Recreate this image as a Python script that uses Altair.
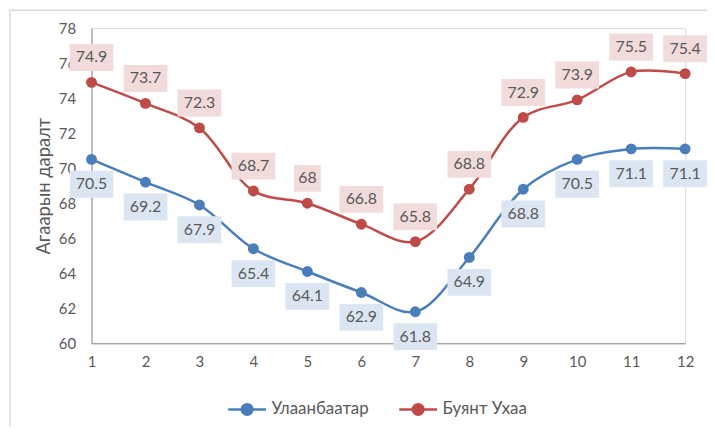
import altair as alt
import pandas as pd

months = list(range(1, 13))
ulaanbaatar = [70.5, 69.2, 67.9, 65.4, 64.1, 62.9, 61.8, 64.9, 68.8, 70.5, 71.1, 71.1]
buyant_ukhaa = [74.9, 73.7, 72.3, 68.7, 68.0, 66.8, 65.8, 68.8, 72.9, 73.9, 75.5, 75.4]
series_names = ["Улаанбаатар", "Буянт Ухаа"]
series_colors = ["#4A7EBB", "#BE4B48"]
box_colors = ["#DCE6F2", "#F2DCDB"]
y_ticks = [60, 62, 64, 66, 68, 70, 72, 74, 76, 78]
y_title = "Агаарын даралт"

rows = []
for name, vals in zip(series_names, [ulaanbaatar, buyant_ukhaa]):
    for m, v in zip(months, vals):
        lab = f"{v:g}"
        rows.append({"month": m, "value": v, "series": name, "label": lab,
                     "boxw": "n" if len(lab) <= 2 else "w"})
df = pd.DataFrame(rows)

FONT = "Lato, 'Open Sans', sans-serif"
TXT = "#595959"
LEG_SYM = "M-1,0H1M0.28,0A0.28,0.28 0 1,1 -0.28,0A0.28,0.28 0 1,1 0.28,0Z"

x_enc = alt.X("month:Q", scale=alt.Scale(domain=[1, 12], nice=False, zero=False, padding=0),
              axis=alt.Axis(values=months, title=None, grid=False, ticks=False,
                            domainColor="#8C8C8C", labelFontSize=15, labelColor=TXT,
                            labelFont=FONT, labelPadding=11, format="d",
                            labelOverlap=False, labelFlush=False))
y_enc = alt.Y("value:Q", scale=alt.Scale(domain=[60, 78], nice=False, zero=False, padding=0),
              axis=alt.Axis(values=y_ticks, title=y_title, grid=False, ticks=False,
                            domainColor="#8C8C8C", labelFontSize=15, labelColor=TXT,
                            labelFont=FONT, labelPadding=16, titleFont=FONT,
                            titleFontSize=18.5, titleColor=TXT, titleFontWeight="normal",
                            titlePadding=5, labelOverlap=False, labelFlush=False,
                            tickCount=10))

legend = alt.Legend(
    title=None, orient="none", legendX=136, legendY=363,
    direction="horizontal", symbolType=LEG_SYM,
    symbolSize=1444, symbolStrokeWidth=2.5, labelFontSize=17,
    labelFont=FONT, labelColor=TXT, columnPadding=25, labelOffset=4,
    padding=0, symbolOpacity=1)
cscale = alt.Scale(domain=series_names, range=series_colors)

base = alt.Chart(df)

line = base.mark_line(interpolate="catmull-rom", strokeWidth=2.5).encode(
    x=x_enc, y=y_enc, stroke=alt.Stroke("series:N", scale=cscale, legend=legend))
pts = base.mark_point(size=120, opacity=1, filled=True).encode(
    x=x_enc, y=y_enc,
    fill=alt.Fill("series:N", scale=cscale, legend=legend))

wide = "M-1,-0.614H1V0.614H-1Z"
narrow = "M-0.614,-0.614H0.614V0.614H-0.614Z"

def boxes(name, fill, dy):
    d = base.transform_filter(alt.datum.series == name)
    bx = d.mark_point(filled=True, opacity=1, fill=fill, strokeWidth=0, yOffset=dy).encode(
        x=x_enc, y=y_enc,
        shape=alt.Shape("boxw:N", scale=alt.Scale(domain=["w", "n"], range=[wide, narrow]), legend=None),
        size=alt.Size("boxw:N", scale=alt.Scale(domain=["w", "n"], range=[44 * 44, 44 * 44]), legend=None))
    tx = d.mark_text(font=FONT, fontSize=16, color=TXT, yOffset=dy, baseline="middle").encode(
        x=x_enc, y=y_enc, text="label:N")
    return bx + tx

border = alt.Chart(pd.DataFrame({"a": [0]})).mark_rect(
    fill=None, stroke="#D9D9D9", strokeWidth=1.5, clip=False).encode(
    x=alt.value(-82), x2=alt.value(640), y=alt.value(-18), y2=alt.value(420))

chart = alt.layer(
    line, pts,
    boxes(series_names[0], box_colors[0], 25),
    boxes(series_names[1], box_colors[1], -25),
    border,
).resolve_scale(shape="independent", size="independent").properties(
    width=597, height=317,
    autosize=alt.AutoSizeParams(type="none"),
    padding={"left": 84, "top": 19, "right": 22, "bottom": 82},
).configure_view(stroke=None).configure_axis(labelOverlap=False).configure(background="white")

chart.save("out.html", embed_options={"renderer": "svg", "actions": False})
